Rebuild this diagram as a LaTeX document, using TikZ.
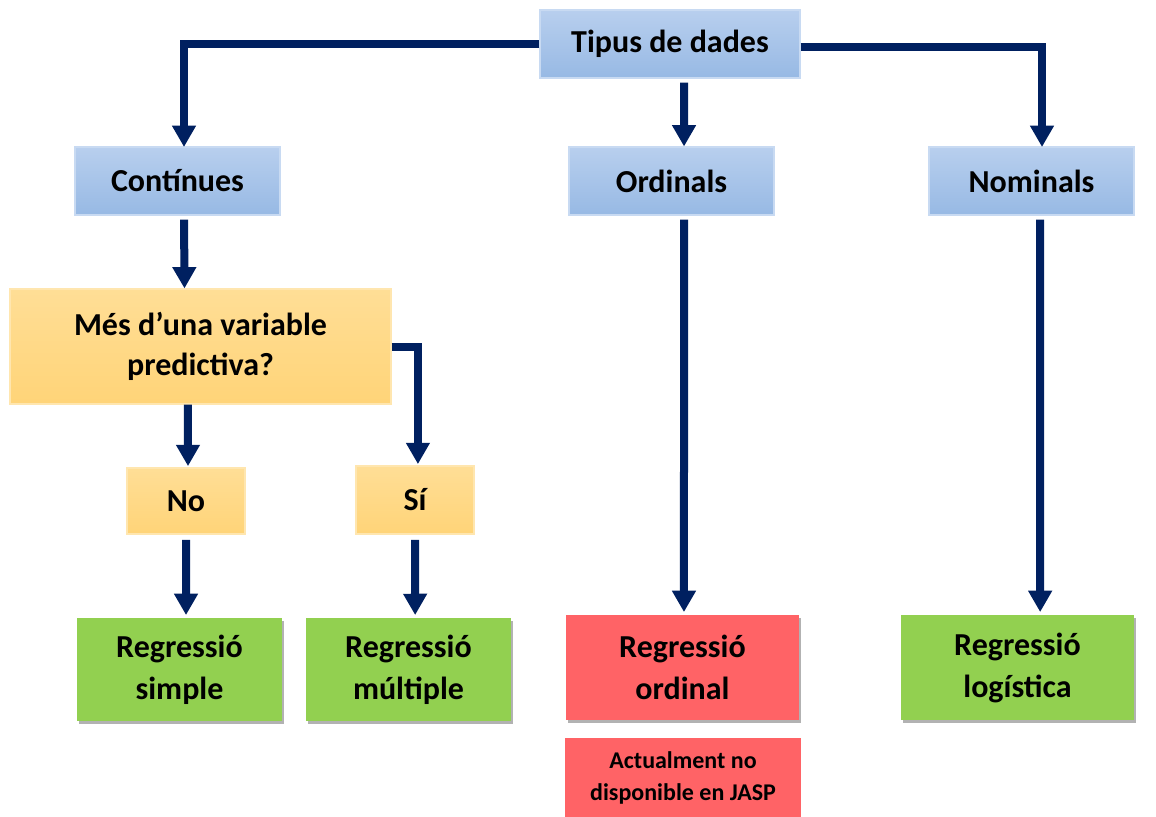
\documentclass[tikz,border=0pt]{standalone}
\usepackage{fontspec}
\setmainfont{Carlito}
\usetikzlibrary{arrows.meta,shadows}
\definecolor{navy}{HTML}{002060}
\definecolor{bluetop}{RGB}{184,207,238}
\definecolor{bluebot}{RGB}{151,185,228}
\definecolor{bluebord}{RGB}{200,218,242}
\definecolor{orgtop}{RGB}{255,222,150}
\definecolor{orgbot}{RGB}{255,212,120}
\definecolor{orgbord}{RGB}{255,230,175}
\definecolor{grn}{RGB}{146,208,80}
\definecolor{rd}{RGB}{255,99,102}
\tikzset{
  base/.style={inner sep=0pt, align=center, font=\bfseries\fontsize{24}{31.5}\selectfont},
  bluebox/.style={base, top color=bluetop, bottom color=bluebot, draw=bluebord, line width=0.8pt},
  orgbox/.style={base, top color=orgtop, bottom color=orgbot, draw=orgbord, line width=0.8pt},
  grnbox/.style={base, fill=grn, drop shadow={shadow xshift=1.5pt, shadow yshift=-2.5pt, opacity=0.3, fill=black}},
  rdbox/.style={base, fill=rd, drop shadow={shadow xshift=1.5pt, shadow yshift=-2.5pt, opacity=0.3, fill=black}},
  conn/.style={draw=navy, line width=6pt, -{Triangle[width=17pt,length=16pt]}},
}
\begin{document}
\begin{tikzpicture}[x=0.75pt,y=-0.75pt]
\useasboundingbox (0,0) rectangle (1156,817);
% top row
\node[bluebox, minimum width=195pt, minimum height=51pt] (tipus) at (670,44) {Tipus de dades};
\node[bluebox, minimum width=153.75pt, minimum height=51pt] (cont) at (177.5,181) {Contínues};
\node[bluebox, minimum width=153.75pt, minimum height=51pt] (ord) at (671.5,181) {Ordinals};
\node[bluebox, minimum width=153.75pt, minimum height=51pt] (nom) at (1031.5,181) {Nominals};
% question
\node[orgbox, minimum width=285.75pt, minimum height=86.25pt, font=\bfseries\fontsize{24}{30}\selectfont] (mes) at (200.5,346.5) {Més d’una variable\\predictiva?};
\node[orgbox, minimum width=88.5pt, minimum height=49.5pt] (no) at (186,501) {No};
\node[orgbox, minimum width=88.5pt, minimum height=51pt] (si) at (415,500) {Sí};
% results
\node[grnbox, minimum width=153.75pt, minimum height=77.25pt] (rsimple) at (179.5,669.5) {Regressió\\simple};
\node[grnbox, minimum width=153.75pt, minimum height=77.25pt] (rmult) at (408.5,669.5) {Regressió\\múltiple};
\node[rdbox, minimum width=174.75pt, minimum height=78.75pt] (rord) at (682.5,667.5) {Regressió\\ordinal};
\node[grnbox, minimum width=174.75pt, minimum height=78.75pt] (rlog) at (1017.5,667.5) {Regressió\\logística};
\node[base, fill=rd, minimum width=177pt, minimum height=59.25pt, font=\bfseries\fontsize{18}{24}\selectfont] (nota) at (683,777.5) {Actualment no\\disponible en JASP};
% connectors
\coordinate (cA) at (184,147);
\coordinate (cB) at (1042,147);
\draw[conn] (tipus.west) -| (cA);
\draw[conn] ([yshift=-2pt]tipus.east) -| (cB);
\draw[conn, shorten <=3pt] ([xshift=10.5pt]tipus.south) -- ([xshift=9.4pt]ord.north);
\draw[conn, shorten <=3pt] ([xshift=4.9pt]cont.south) -- ([xshift=-12pt]mes.north);
\draw[conn, shorten <=3pt, shorten >=2pt] ([xshift=9.4pt]ord.south) -- ([xshift=1.1pt]rord.north);
\draw[conn, shorten <=3pt, shorten >=2pt] ([xshift=6.4pt]nom.south) -- ([xshift=17pt]rlog.north);
\draw[conn, shorten >=1pt] ([xshift=-9.4pt]mes.south) -- ([xshift=1.5pt]no.north);
\draw[conn, shorten >=1pt] (mes.east) -| ([xshift=2.2pt]si.north);
\draw[conn, shorten <=4pt, shorten >=2pt] (no.south) -- ([xshift=4.9pt]rsimple.north);
\draw[conn, shorten <=4pt, shorten >=2pt] (si.south) -- ([xshift=5pt]rmult.north);
\end{tikzpicture}
\end{document}
